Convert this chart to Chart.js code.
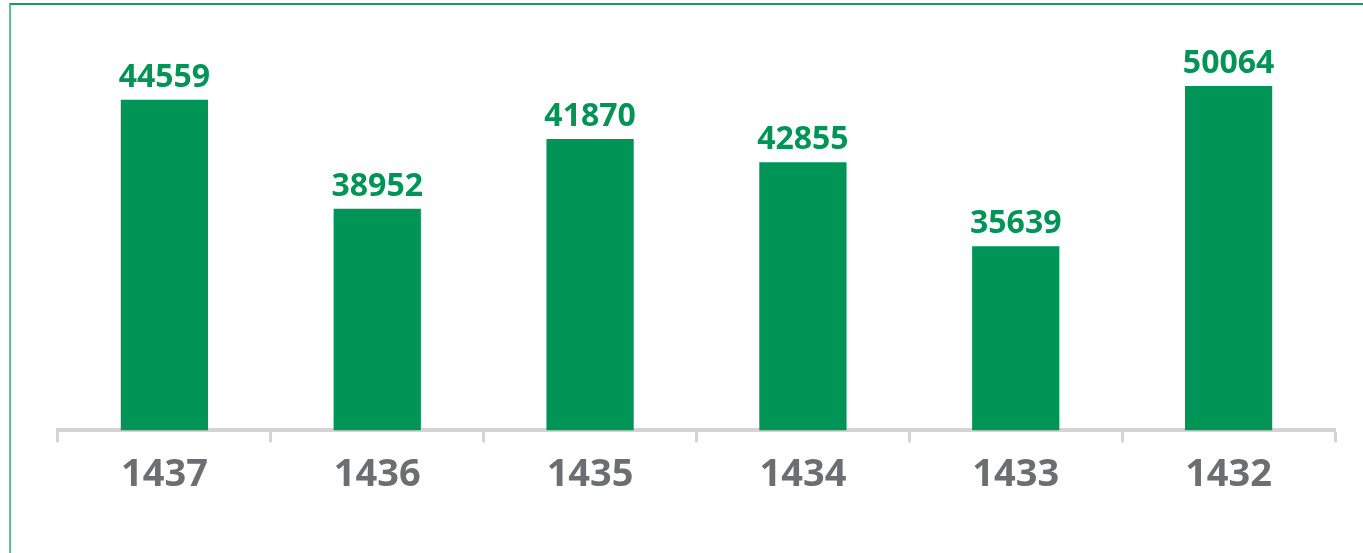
<!DOCTYPE html>
<html>
<head>
<meta charset="utf-8">
<script src="https://cdn.jsdelivr.net/npm/chart.js@4.4.1/dist/chart.umd.min.js"></script>
<style>
    html, body { margin: 0; padding: 0; background: #fff; overflow: hidden; }
    #cadre {
        position: absolute; left: 9px; top: 3px; width: 1420px; height: 620px;
        border-top: 2px solid #1f9a5c; border-left: 2px solid #5cc096;
    }
    #zone { position: absolute; left: 0; top: 0; width: 1363px; height: 553px; }
</style>
</head>
<body>
<div id="cadre"></div>
<div id="zone"><canvas id="graphe"></canvas></div>
<script>
    // années (ordre du visuel, de gauche à droite)
    const annees = ['1437', '1436', '1435', '1434', '1433', '1432'];
    // valeurs affichées au-dessus des barres
    const valeurs = [44559, 38952, 41870, 42855, 35639, 50064];
    // hauteur des barres telle que dessinée dans le visuel (pas proportionnelle aux valeurs)
    const hauteursBarres = [48100, 32250, 42400, 39000, 26800, 50100];

    const vert = '#009557';
    const gris = '#6d6e71';

    // étiquettes des valeurs au-dessus des barres
    const etiquettesValeurs = {
        id: 'etiquettesValeurs',
        afterDatasetsDraw(chart) {
            const ctx = chart.ctx;
            const meta = chart.getDatasetMeta(0);
            ctx.save();
            ctx.font = 'bold 32px "Open Sans"';
            ctx.fillStyle = vert;
            ctx.textAlign = 'center';
            ctx.textBaseline = 'alphabetic';
            meta.data.forEach((bar, i) => {
                ctx.fillText(String(valeurs[i]), bar.x, bar.y - 13);
            });
            ctx.restore();
        }
    };

    new Chart(document.getElementById('graphe').getContext('2d'), {
        type: 'bar',
        data: {
            labels: annees,
            datasets: [{
                data: hauteursBarres,
                backgroundColor: vert,
                borderWidth: 0,
                categoryPercentage: 1,
                barPercentage: 0.41
            }]
        },
        options: {
            responsive: true,
            maintainAspectRatio: false,
            animation: false,
            layout: { padding: { left: 58, right: 28, top: 18, bottom: 45 } },
            plugins: {
                legend: { display: false },
                tooltip: { enabled: false }
            },
            scales: {
                x: {
                    grid: {
                        display: true,
                        drawOnChartArea: false,
                        drawTicks: true,
                        tickLength: 12,
                        tickWidth: 3,
                        tickColor: '#d4d4d4',
                        offset: true
                    },
                    border: { display: true, color: '#d4d4d4', width: 4 },
                    ticks: {
                        color: gris,
                        padding: 10,
                        font: { family: '"Open Sans"', size: 38, weight: 'bold' }
                    }
                },
                y: {
                    display: false,
                    min: 0,
                    max: 60000
                }
            }
        },
        plugins: [etiquettesValeurs]
    });
</script>
</body>
</html>
